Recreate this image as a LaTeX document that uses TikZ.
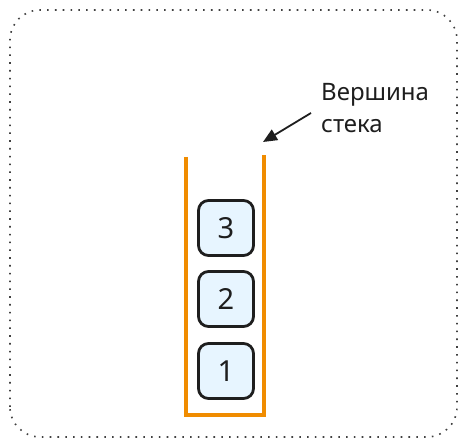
\documentclass[tikz,border=0pt]{standalone}
\usepackage{fontspec}
\setmainfont{Noto Sans}
\usetikzlibrary{arrows.meta}
\definecolor{boxfill}{HTML}{E7F5FF}
\definecolor{ink}{HTML}{1E1E1E}
\definecolor{stackor}{HTML}{F08C00}
\tikzset{
  item/.style={draw=ink, line width=2.8pt, fill=boxfill, rounded corners=10pt,
    minimum width=55pt, minimum height=55pt, inner sep=0pt, font=\fontsize{29}{29}\selectfont, text=ink},
  wall/.style={draw=stackor, line width=3.2pt},
  frame/.style={draw=ink!85, line width=1.6pt, dash pattern=on 1.6pt off 6.2pt, rounded corners=30pt},
  lbl/.style={font=\fontsize{24}{32}\selectfont, text=ink, align=left, inner sep=0pt, anchor=north west}
}
\begin{document}
\begin{tikzpicture}[x=1pt,y=1pt]
\useasboundingbox (0,0) rectangle (467,447);
\draw[frame] (10,10) rectangle (457,437);
\coordinate (lt) at (186,290);
\coordinate (lb) at (186,32);
\coordinate (rb) at (264,32);
\coordinate (rt) at (264,292);
\draw[wall] (lt) -- (lb) -- (rb) -- (rt);
\node[item] (b3) at (226,219) {3};
\node[item] (b2) at (226,148) {2};
\node[item] (b1) at (226,76) {1};
\node[lbl] (top) at (321,364) {Вершина\\стека};
\coordinate (tail) at (311,334);
\coordinate (tip) at (263,305);
\draw[ink, line width=1.8pt, -{Triangle[length=14pt,width=12pt]}] (tail) -- (tip);
\end{tikzpicture}
\end{document}
